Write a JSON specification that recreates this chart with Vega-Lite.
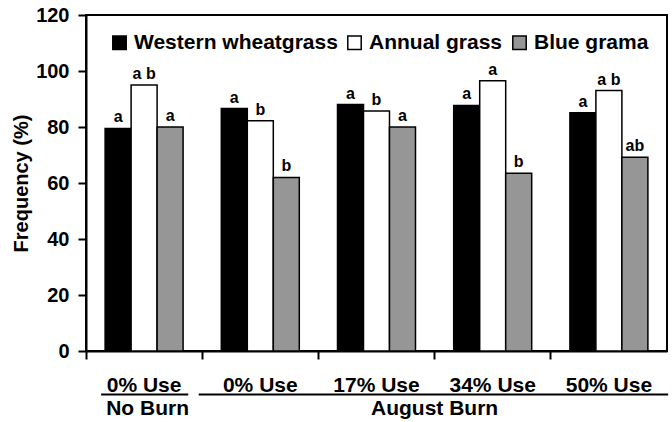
{
  "$schema": "https://vega.github.io/schema/vega-lite/v6.json",
  "width": 581,
  "height": 336,
  "autosize": {"type": "none"},
  "padding": {"left": 86, "top": 15, "right": 5, "bottom": 71},
  "background": "white",
  "config": {
    "view": {"stroke": "black", "strokeWidth": 2},
    "font": "Liberation Sans"
  },
  "layer": [
    {
      "data": {
        "values": [
          {"group": "No Burn|0% Use", "species": "Western wheatgrass", "value": 79.5, "sig": "a"},
          {"group": "No Burn|0% Use", "species": "Annual grass", "value": 95, "sig": "a b"},
          {"group": "No Burn|0% Use", "species": "Blue grama", "value": 80, "sig": "a"},
          {"group": "August Burn|0% Use", "species": "Western wheatgrass", "value": 86.6, "sig": "a"},
          {"group": "August Burn|0% Use", "species": "Annual grass", "value": 82.2, "sig": "b"},
          {"group": "August Burn|0% Use", "species": "Blue grama", "value": 62, "sig": "b"},
          {"group": "August Burn|17% Use", "species": "Western wheatgrass", "value": 88, "sig": "a"},
          {"group": "August Burn|17% Use", "species": "Annual grass", "value": 85.7, "sig": "b"},
          {"group": "August Burn|17% Use", "species": "Blue grama", "value": 80, "sig": "a"},
          {"group": "August Burn|34% Use", "species": "Western wheatgrass", "value": 87.7, "sig": "a"},
          {"group": "August Burn|34% Use", "species": "Annual grass", "value": 96.5, "sig": "a"},
          {"group": "August Burn|34% Use", "species": "Blue grama", "value": 63.5, "sig": "b"},
          {"group": "August Burn|50% Use", "species": "Western wheatgrass", "value": 85.1, "sig": "a"},
          {"group": "August Burn|50% Use", "species": "Annual grass", "value": 93, "sig": "a b"},
          {"group": "August Burn|50% Use", "species": "Blue grama", "value": 69.2, "sig": "ab"}
        ]
      },
      "encoding": {
        "x": {
          "field": "group",
          "type": "nominal",
          "sort": null,
          "scale": {"paddingInner": 0, "paddingOuter": 0},
          "axis": {
            "title": null,
            "labelAngle": 0,
            "bandPosition": 0,
            "labelExpr": "split(datum.value, '|')[1]",
            "tickSize": 8,
            "tickWidth": 2,
            "tickColor": "black",
            "domainColor": "black",
            "domainWidth": 2,
            "labelFontSize": 21,
            "labelFontWeight": "bold",
            "labelColor": "black",
            "labelPadding": 15,
            "labelLimit": 300
          }
        },
        "xOffset": {
          "field": "species",
          "type": "nominal",
          "sort": ["Western wheatgrass", "Annual grass", "Blue grama"],
          "scale": {"paddingInner": 0, "paddingOuter": 0.735}
        },
        "y": {
          "field": "value",
          "type": "quantitative",
          "title": "Frequency (%)",
          "scale": {"domain": [0, 120], "nice": false},
          "axis": {
            "values": [0, 20, 40, 60, 80, 100, 120],
            "grid": false,
            "tickSize": 8,
            "tickWidth": 2,
            "tickColor": "black",
            "domainColor": "black",
            "domainWidth": 2,
            "labelFontSize": 20,
            "labelFontWeight": "bold",
            "labelColor": "black",
            "labelPadding": 9,
            "titleFontSize": 20,
            "titleFontWeight": "bold",
            "titleColor": "black",
            "titlePadding": 4
          }
        }
      },
      "layer": [
        {
          "mark": {"type": "bar", "stroke": "black", "strokeWidth": 1.5},
          "encoding": {
            "color": {
              "field": "species",
              "type": "nominal",
              "sort": ["Western wheatgrass", "Annual grass", "Blue grama"],
              "scale": {
                "domain": ["Western wheatgrass", "Annual grass", "Blue grama"],
                "range": ["#000000", "#ffffff", "#969696"]
              },
              "legend": {
                "title": null,
                "orient": "none",
                "direction": "horizontal",
                "legendX": 23,
                "legendY": 17,
                "symbolType": "square",
                "symbolSize": 180,
                "symbolStrokeColor": "black",
                "symbolStrokeWidth": 1.5,
                "symbolOpacity": 1,
                "labelFontSize": 21,
                "labelFontWeight": "bold",
                "labelColor": "black",
                "labelOffset": 4,
                "columnPadding": 6,
                "labelLimit": 300,
                "padding": 0
              }
            }
          }
        },
        {
          "mark": {"type": "text", "fontSize": 16, "fontWeight": "bold", "dy": -6, "baseline": "alphabetic", "fill": "black"},
          "encoding": {
            "text": {"field": "sig", "type": "nominal"}
          }
        }
      ]
    },
    {
      "data": {
        "values": [
          {"part": "No Burn", "start": 0.13, "end": 0.88, "mid": 0.53},
          {"part": "August Burn", "start": 0.97, "end": 5.01, "mid": 3.0}
        ]
      },
      "layer": [
        {
          "mark": {"type": "rule", "stroke": "black", "strokeWidth": 2},
          "encoding": {
            "x": {"field": "start", "type": "quantitative", "scale": {"domain": [0, 5], "nice": false, "zero": false}, "axis": null},
            "x2": {"field": "end"},
            "y": {"datum": -15.5, "type": "quantitative"}
          }
        },
        {
          "mark": {"type": "text", "fontSize": 21, "fontWeight": "bold", "baseline": "middle", "fill": "black"},
          "encoding": {
            "x": {"field": "mid", "type": "quantitative", "scale": {"domain": [0, 5], "nice": false, "zero": false}, "axis": null},
            "y": {"datum": -20.7, "type": "quantitative"},
            "text": {"field": "part", "type": "nominal"}
          }
        }
      ]
    }
  ],
  "resolve": {"scale": {"x": "independent"}, "axis": {"x": "independent"}}
}
